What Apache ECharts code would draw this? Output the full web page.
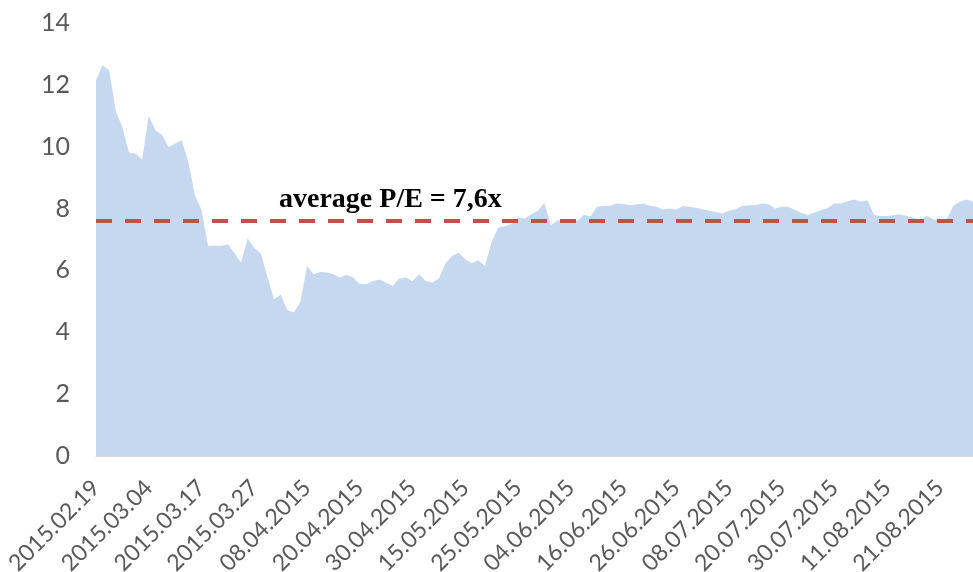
<!DOCTYPE html>
<html>
<head>
<meta charset="utf-8">
<script src="https://cdn.jsdelivr.net/npm/echarts@6/dist/echarts.min.js"></script>
<style>html,body{margin:0;padding:0;background:#fff}#c{width:973px;height:572px}</style>
</head>
<body>
<div id="c"></div>
<script>
const tickLabels = ['2015.02.19','2015.03.04','2015.03.17','2015.03.27','08.04.2015','20.04.2015','30.04.2015','15.05.2015','25.05.2015','04.06.2015','16.06.2015','26.06.2015','08.07.2015','20.07.2015','30.07.2015','11.08.2015','21.08.2015'];
const labelEvery = 8;
const peValues = [
  12.15, 12.63, 12.47, 11.15, 10.64, 9.81, 9.78, 9.59, 11.0, 10.53, 10.39, 9.99, 10.1, 10.21, 9.51, 8.43, 7.95, 6.79, 6.8, 6.79, 6.85, 6.56, 6.26, 7.03, 6.73, 6.55, 5.79, 5.06, 5.22, 4.72, 4.64, 4.99, 6.14,
  5.88, 5.95, 5.93, 5.88, 5.77, 5.85, 5.77, 5.56, 5.55, 5.66, 5.71, 5.6, 5.5, 5.74, 5.77, 5.65, 5.88, 5.66, 5.61, 5.74, 6.23, 6.47, 6.57, 6.35, 6.23, 6.33, 6.14, 6.92, 7.39, 7.43, 7.5, 7.71, 7.68, 7.81, 7.93, 8.18,
  7.46, 7.62, 7.62, 7.62, 7.6, 7.79, 7.75, 8.06, 8.08, 8.09, 8.16, 8.14, 8.11, 8.13, 8.16, 8.09, 8.06, 7.97, 8.0, 7.97, 8.08, 8.06, 8.03, 7.98, 7.93, 7.89, 7.84, 7.93, 7.98, 8.08, 8.11,
  8.11, 8.16, 8.14, 8.0, 8.06, 8.06, 7.95, 7.86, 7.79, 7.87, 7.95, 8.02, 8.16, 8.16, 8.24, 8.29, 8.22, 8.27, 7.79, 7.76, 7.76, 7.79, 7.81, 7.76, 7.7, 7.62, 7.76, 7.65, 7.65, 7.65, 8.08, 8.22, 8.29, 8.22
];
const averagePE = 7.6;
const averageText = 'average P/E = 7,6x';

const categories = peValues.map((_, i) => (i % labelEvery === 0 && tickLabels[i / labelEvery]) ? tickLabels[i / labelEvery] : ('#' + i));

const chart = echarts.init(document.getElementById('c'), null, {renderer: 'canvas'});
chart.setOption({
  animation: false,
  grid: {left: 96, right: 0, top: 23, bottom: 116, containLabel: false, outerBoundsMode: 'none'},
  xAxis: {
    type: 'category',
    data: categories,
    boundaryGap: false,
    axisLine: {lineStyle: {color: '#D9D9D9', width: 1}},
    axisTick: {show: false},
    axisLabel: {
      interval: labelEvery - 1,
      rotate: 45,
      margin: 28,
      color: '#595959',
      fontSize: 23,
      fontFamily: 'Lato'
    },
    splitLine: {show: false}
  },
  yAxis: {
    type: 'value',
    min: 0, max: 14, interval: 2,
    axisLine: {show: false},
    axisTick: {show: false},
    splitLine: {show: false},
    axisLabel: {color: '#595959', fontSize: 25, fontFamily: 'Lato', margin: 26}
  },
  series: [{
    type: 'line',
    data: peValues,
    symbol: 'none',
    lineStyle: {width: 0},
    areaStyle: {color: '#C6D8F0', opacity: 1},
    markLine: {
      silent: true,
      symbol: 'none',
      label: {show: false},
      lineStyle: {color: '#C0504D', width: 4, type: [16, 13]},
      data: [{yAxis: averagePE}]
    }
  }],
  graphic: [{
    type: 'text',
    left: 279,
    top: 186,
    style: {
      text: averageText,
      font: 'bold 28px "Liberation Serif"',
      fill: '#000'
    }
  }]
});
</script>
</body>
</html>
